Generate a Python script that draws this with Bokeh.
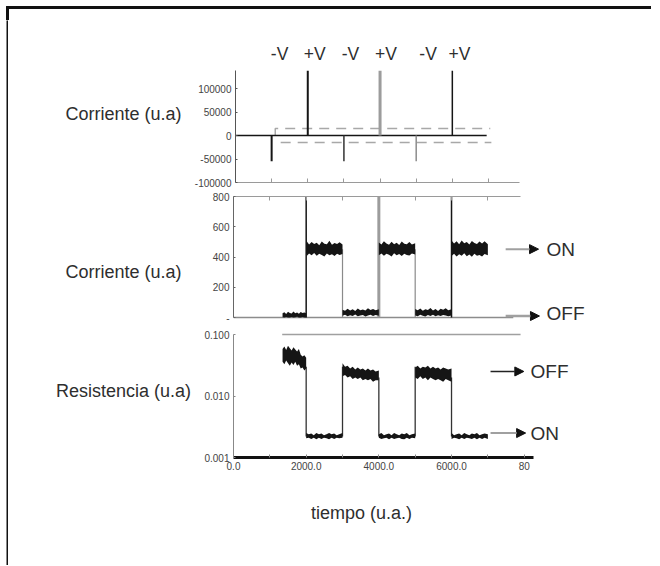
from bokeh.plotting import figure
from bokeh.layouts import column, row
from bokeh.models import (Range1d, FixedTicker, NumeralTickFormatter, Arrow, NormalHead)
from bokeh.embed import file_html
from bokeh.resources import INLINE
from bokeh.core.properties import value

FONT = "Liberation Sans"
TXT = "#2e2e2e"

# ---------------- data ----------------
# top panel: current spikes when voltage pulses are applied
spike_t = [1000, 2000, 3000, 4000, 5000, 6000]
spike_i = [-55000, 138000, -55000, 138000, -55000, 138000]
spike_labels = ["-V", "+V", "-V", "+V", "-V", "+V"]
spike_label_t = [1220, 2190, 3180, 4165, 5330, 6195]
base_t = [0, 6950]
base_i = [0, 0]
vpos_t = [1100, 1100, 7050]
vpos_i = [0, 15000, 15000]
vneg_t = [1250, 7080]
vneg_i = [-15000, -15000]

# middle panel: read current (noise envelope low/high)
cur_base_t = [0, 7700]
cur_base_i = [0, 0]
cur_off1_t = [1350, 1400, 1450, 1500, 1550, 1600, 1650, 1700, 1750, 1800, 1850, 1900, 1950, 2000]
cur_off1_hi = [28, 35, 24, 38, 30, 26, 40, 29, 33, 25, 37, 30, 34, 28]
cur_off1_lo = [2, 0, 4, 1, 0, 3, 0, 2, 5, 0, 1, 3, 0, 2]
cur_on1_t = [2000, 2015, 2080, 2150, 2220, 2290, 2360, 2430, 2500, 2570, 2640, 2710, 2780, 2850, 2920, 3000]
cur_on1_hi = [650, 505, 482, 500, 486, 494, 478, 503, 488, 484, 508, 481, 493, 486, 498, 483]
cur_on1_lo = [425, 407, 423, 412, 426, 409, 421, 414, 404, 424, 411, 419, 407, 422, 413, 420]
cur_off2_t = [3000, 3070, 3140, 3210, 3280, 3350, 3420, 3490, 3560, 3630, 3700, 3770, 3840, 3910, 4000]
cur_off2_hi = [52, 45, 58, 47, 55, 44, 60, 49, 53, 46, 62, 50, 56, 48, 54]
cur_off2_lo = [12, 18, 8, 15, 10, 20, 9, 14, 17, 7, 13, 19, 11, 16, 12]
cur_on2_t = [4000, 4070, 4140, 4210, 4280, 4350, 4420, 4490, 4560, 4630, 4700, 4770, 4840, 4910, 5000]
cur_on2_hi = [496, 483, 505, 489, 481, 501, 485, 494, 479, 503, 488, 484, 499, 482, 491]
cur_on2_lo = [412, 423, 409, 421, 415, 404, 425, 411, 420, 407, 422, 414, 410, 424, 416]
cur_off3_t = [5000, 5070, 5140, 5210, 5280, 5350, 5420, 5490, 5560, 5630, 5700, 5770, 5840, 5910, 6000]
cur_off3_hi = [56, 48, 60, 45, 54, 50, 63, 47, 57, 44, 58, 51, 61, 49, 55]
cur_off3_lo = [14, 9, 18, 12, 7, 16, 11, 19, 8, 15, 10, 17, 13, 9, 14]
cur_on3_t = [6000, 6070, 6140, 6210, 6280, 6350, 6420, 6490, 6560, 6630, 6700, 6770, 6840, 6910, 7000]
cur_on3_hi = [510, 489, 504, 484, 509, 491, 500, 482, 506, 493, 486, 503, 490, 505, 485]
cur_on3_lo = [406, 421, 403, 418, 409, 425, 405, 416, 402, 422, 408, 413, 404, 420, 412]
cur_edge_t = [2000, 3000, 4000, 5000, 6000]
cur_edge_from = [0, 452, 0, 452, 0]
cur_edge_to = [138000, 0, 138000, 0, 138000]

# bottom panel: resistance (log)
res_off1_t = cur_off1_t
res_off1_hi = [0.058, 0.064, 0.056, 0.066, 0.060, 0.055, 0.062, 0.057, 0.053, 0.058, 0.047, 0.044, 0.046, 0.042]
res_off1_lo = [0.036, 0.033, 0.038, 0.034, 0.031, 0.035, 0.032, 0.036, 0.031, 0.033, 0.028, 0.029, 0.026, 0.028]
res_on1_t = [2000, 2070, 2140, 2210, 2280, 2350, 2420, 2490, 2560, 2630, 2700, 2770, 2840, 2910, 3000]
res_on1_hi = [0.0025, 0.0024, 0.00245, 0.0023, 0.0025, 0.0024, 0.00245, 0.0023, 0.0024, 0.0025, 0.0024, 0.00245, 0.0023, 0.0024, 0.0025]
res_on1_lo = [0.00205, 0.0021, 0.0020, 0.0021, 0.00198, 0.0021, 0.0020, 0.0021, 0.00205, 0.00198, 0.0021, 0.0020, 0.0021, 0.00205, 0.0021]
res_off2_t = cur_off2_t
res_off2_hi = [0.034, 0.030, 0.031, 0.028, 0.030, 0.027, 0.029, 0.027, 0.028, 0.026, 0.028, 0.026, 0.027, 0.025, 0.026]
res_off2_lo = [0.021, 0.022, 0.020, 0.021, 0.019, 0.020, 0.019, 0.020, 0.018, 0.019, 0.018, 0.019, 0.017, 0.018, 0.018]
res_on2_t = cur_on2_t
res_on2_hi = [0.0024, 0.0025, 0.0023, 0.0024, 0.00245, 0.0023, 0.0025, 0.0024, 0.0023, 0.00245, 0.0024, 0.0025, 0.0023, 0.0024, 0.00245]
res_on2_lo = [0.0021, 0.0020, 0.00205, 0.0021, 0.00198, 0.0021, 0.0020, 0.00205, 0.0021, 0.0020, 0.00198, 0.0021, 0.0020, 0.0021, 0.00205]
res_off3_t = cur_off3_t
res_off3_hi = [0.029, 0.031, 0.028, 0.030, 0.029, 0.031, 0.028, 0.030, 0.028, 0.029, 0.027, 0.029, 0.028, 0.027, 0.028]
res_off3_lo = [0.020, 0.019, 0.021, 0.019, 0.020, 0.018, 0.020, 0.019, 0.018, 0.019, 0.018, 0.017, 0.019, 0.018, 0.017]
res_on3_t = cur_on3_t
res_on3_hi = [0.0025, 0.0023, 0.0024, 0.00245, 0.0023, 0.0025, 0.0024, 0.0023, 0.00245, 0.0024, 0.0025, 0.0023, 0.0024, 0.00245, 0.0024]
res_on3_lo = [0.0020, 0.0021, 0.00205, 0.00198, 0.0021, 0.0020, 0.0021, 0.00205, 0.0020, 0.0021, 0.00198, 0.0021, 0.0020, 0.0021, 0.0020]
res_edge_t = [2000, 3000, 4000, 5000, 6000]
res_edge_from = [0.03, 0.0022, 0.02, 0.0022, 0.02]
res_edge_to = [0.0022, 0.03, 0.0022, 0.03, 0.0022]
res_sat_t = [1340, 7900]
res_sat_r = [0.1, 0.1]

# axis ticks / labels
top_yticks = [-100000, -50000, 0, 50000, 100000]
mid_yticks = [0, 200, 400, 600, 800]
bot_yticks = [0.001, 0.01, 0.1]
x_inner_ticks = [1000, 2000, 3000, 4000, 5000, 6000, 7000]
x_major_ticks = [0, 2000, 4000, 6000, 8000]
x_minor_ticks = [1000, 3000, 5000, 7000]
panel_titles = ["Corriente (u.a)", "Corriente (u.a)", "Resistencia (u.a)"]
x_title = "tiempo (u.a.)"
x_title_t = 3520

# ---------------- styles ----------------
spike_color = ["#151515", "#151515", "#333333", "#9c9c9c", "#8c8c8c", "#151515"]
spike_width = [2, 2, 1.5, 3, 1.5, 1.5]
cur_edge_color = ["#151515", "#8a8a8a", "#9c9c9c", "#8a8a8a", "#151515"]
cur_edge_width = [1.5, 1.2, 3, 1.2, 1.5]

W = 460           # width of each data figure
LW = 183          # width of the left title strip
XR = (0, 10100)
TICK_FS = "10px"
TOP_H = 20        # height of the strip that carries the page's top rule


def base_fig(height, y_range, top, bottom, **kw):
    p = figure(width=W, height=height, x_range=Range1d(*XR), y_range=y_range,
               output_backend="svg", toolbar_location=None, title=None,
               min_border_left=42, min_border_right=51,
               min_border_top=top, min_border_bottom=bottom, **kw)
    p.outline_line_color = None
    p.grid.visible = False
    p.background_fill_color = "white"
    p.border_fill_color = "white"
    return p


def title_fig(p, height, top, bottom, yval, text, **kw):
    f = figure(width=LW, height=height, x_range=Range1d(0, LW), y_range=p.y_range,
               output_backend="svg", toolbar_location=None, title=None,
               x_axis_location=None, y_axis_location=None,
               min_border_left=0, min_border_right=0,
               min_border_top=top, min_border_bottom=bottom, **kw)
    f.outline_line_color = None
    f.grid.visible = False
    f.text(x=[115], y=[yval], text=[text], text_align="center", text_baseline="middle",
           text_font=value(FONT), text_font_size="18px", text_color=TXT)
    return f


def rule_fig(width, height, left, top):
    b = figure(width=width, height=height, output_backend="svg", toolbar_location=None,
               title=None, x_axis_location=None, y_axis_location=None,
               min_border_left=left, min_border_top=top, min_border_right=0, min_border_bottom=0,
               x_range=Range1d(0, 1), y_range=Range1d(0, 1))
    b.outline_line_color = None
    b.grid.visible = False
    b.background_fill_color = "#111111"
    b.border_fill_color = "white"
    return b


def top_rule_fig(width, height, left):
    # page frame: top line plus the first piece of the left line
    b = figure(width=width, height=height, output_backend="svg", toolbar_location=None,
               title=None, x_axis_location=None, y_axis_location=None, min_border=0,
               x_range=Range1d(0, width), y_range=Range1d(0, height))
    b.outline_line_color = None
    b.grid.visible = False
    b.background_fill_color = "white"
    b.border_fill_color = "white"
    b.quad(left=[left, left], right=[width, left + 2], bottom=[height - 8, 0],
           top=[height - 6, height - 6], color="#111111")
    return b


def style_y(ax, ticks, color="#666666"):
    ax.ticker = FixedTicker(ticks=ticks)
    ax.axis_line_color = color
    ax.axis_line_width = 1
    ax.major_tick_in = 2
    ax.major_tick_out = 0
    ax.major_tick_line_color = color
    ax.minor_tick_line_color = None
    ax.major_label_text_font = FONT
    ax.major_label_text_font_size = TICK_FS
    ax.major_label_text_color = "#444444"
    ax.major_label_standoff = 4


def style_frame_x(ax, bounds, color="#999999", ticks=None):
    ax.bounds = bounds
    ax.axis_line_color = color
    ax.axis_line_width = 1.2
    ax.ticker = FixedTicker(ticks=ticks or [])
    ax.major_tick_in = 4
    ax.major_tick_out = 0
    ax.major_tick_line_color = color
    ax.minor_tick_line_color = None
    ax.major_label_text_color = None
    ax.major_label_text_font_size = "1px"
    ax.major_label_standoff = 0


# ---------------- top panel ----------------
H1, T1, B1 = 168, 21, 6
p1 = base_fig(H1, Range1d(-100000, 200000), T1, B1)
style_y(p1.yaxis[0], top_yticks, "#555555")
p1.yaxis[0].bounds = (-100000, 138000)
p1.yaxis[0].formatter = NumeralTickFormatter(format="0")
style_frame_x(p1.xaxis[0], (0, 7850), "#9a9a9a", x_inner_ticks)

p1.line(vpos_t, vpos_i, color="#a8a8a8", line_width=1.5, line_dash="10 7")
p1.line(vneg_t, vneg_i, color="#a8a8a8", line_width=1.5, line_dash="10 7")
p1.line(base_t, base_i, color="#151515", line_width=1.5)
p1.segment(x0=spike_t, y0=[0 for _ in spike_t], x1=spike_t, y1=spike_i,
           color=spike_color, line_width=spike_width)
p1.text(x=spike_label_t, y=[173000 for _ in spike_label_t], text=spike_labels,
        text_align="center", text_baseline="middle", text_font=value(FONT),
        text_font_size="17.5px", text_color=TXT)
t1 = title_fig(p1, H1, T1, B1, 46000, panel_titles[0])

# ---------------- middle panel ----------------
H2, T2, B2 = 137, 8, 1
p2 = base_fig(H2, Range1d(-46, 800), T2, B2, x_axis_location="above")
style_y(p2.yaxis[0], mid_yticks, "#666666")
p2.yaxis[0].bounds = (0, 800)
p2.yaxis[0].major_label_overrides = {0: "-"}
style_frame_x(p2.xaxis[0], (0, 7900), "#9a9a9a", x_inner_ticks)

cur_blocks = [(cur_off1_t, cur_off1_lo, cur_off1_hi), (cur_on1_t, cur_on1_lo, cur_on1_hi),
              (cur_off2_t, cur_off2_lo, cur_off2_hi), (cur_on2_t, cur_on2_lo, cur_on2_hi),
              (cur_off3_t, cur_off3_lo, cur_off3_hi), (cur_on3_t, cur_on3_lo, cur_on3_hi)]
p2.line(cur_base_t, cur_base_i, color="#8c8c8c", line_width=1.5)
p2.segment(x0=cur_edge_t, y0=cur_edge_from, x1=cur_edge_t, y1=cur_edge_to,
           color=cur_edge_color, line_width=cur_edge_width)
for t, lo, hi in cur_blocks:
    p2.varea(x=t, y1=lo, y2=hi, fill_color="#151515")

head = dict(size=9, fill_color="#111111", line_color="#111111")
p2.add_layout(Arrow(end=NormalHead(**head), x_start=7490, y_start=452, x_end=8395, y_end=452,
                    line_color="#a0a0a0", line_width=2))
p2.add_layout(Arrow(end=NormalHead(**head), x_start=7490, y_start=10, x_end=8420, y_end=10,
                    line_color="#a0a0a0", line_width=2.5))
p2.text(x=[8615, 8615], y=[452, 30], text=["ON", "OFF"], text_align="left",
        text_baseline="middle", text_font=value(FONT), text_font_size="19px", text_color=TXT)
t2 = title_fig(p2, H2, T2, B2, 298, panel_titles[1])

# ---------------- bottom panel ----------------
H3, T3, B3 = 152, 7, 20
p3 = base_fig(H3, Range1d(0.001, 0.108), T3, B3, y_axis_type="log")
style_y(p3.yaxis[0], bot_yticks, "#888888")
p3.yaxis[0].bounds = (0.001, 0.1)
p3.yaxis[0].formatter = NumeralTickFormatter(format="0.000")
xa = p3.xaxis[0]
xa.bounds = (-80, 8260)
xa.ticker = FixedTicker(ticks=x_major_ticks, minor_ticks=x_minor_ticks)
xa.formatter = NumeralTickFormatter(format="0.0")
xa.major_label_overrides = {8000: "80"}
xa.axis_line_color = "#111111"
xa.axis_line_width = 3
xa.major_tick_in = 3
xa.major_tick_out = 0
xa.minor_tick_in = 3
xa.minor_tick_out = 0
xa.major_tick_line_color = "#888888"
xa.minor_tick_line_color = "#888888"
xa.major_label_text_font = FONT
xa.major_label_text_font_size = TICK_FS
xa.major_label_text_color = "#444444"
xa.major_label_standoff = 4

p3.line(res_sat_t, res_sat_r, color="#a0a0a0", line_width=1.5)
res_blocks = [(res_off1_t, res_off1_lo, res_off1_hi), (res_on1_t, res_on1_lo, res_on1_hi),
              (res_off2_t, res_off2_lo, res_off2_hi), (res_on2_t, res_on2_lo, res_on2_hi),
              (res_off3_t, res_off3_lo, res_off3_hi), (res_on3_t, res_on3_lo, res_on3_hi)]
p3.segment(x0=res_edge_t, y0=res_edge_from, x1=res_edge_t, y1=res_edge_to,
           color="#333333", line_width=1.3)
for t, lo, hi in res_blocks:
    p3.varea(x=t, y1=lo, y2=hi, fill_color="#151515")

p3.add_layout(Arrow(end=NormalHead(**head), x_start=7074, y_start=0.0251, x_end=7990, y_end=0.0251,
                    line_color="#222222", line_width=1.5))
p3.add_layout(Arrow(end=NormalHead(**head), x_start=7074, y_start=0.0025, x_end=8040, y_end=0.0025,
                    line_color="#a0a0a0", line_width=2))
p3.text(x=[8175, 8175], y=[0.0251, 0.0025], text=["OFF", "ON"], text_align="left",
        text_baseline="middle", text_font=value(FONT), text_font_size="19px", text_color=TXT)
t3 = title_fig(p3, H3, T3, B3, 0.0122, panel_titles[2], y_axis_type="log")

# ---------------- time caption strip (shares the time axis) ----------------
HC = 88
cap = figure(width=LW + W, height=HC, x_range=p3.x_range, y_range=Range1d(0, HC),
             output_backend="svg", toolbar_location=None, title=None,
             x_axis_location=None, y_axis_location=None,
             min_border_left=LW + 42, min_border_right=51, min_border_top=0, min_border_bottom=0)
cap.outline_line_color = None
cap.grid.visible = False
cap.text(x=[x_title_t], y=[HC - 35], text=[x_title], text_align="center", text_baseline="middle",
         text_font=value(FONT), text_font_size="18px", text_color=TXT)

# ---------------- page frame (top and left rules) ----------------
body = column(row(t1, p1), row(t2, p2), row(t3, p3), cap)
top_rule = top_rule_fig(LW + W + 8, TOP_H, 6)
left_rule = rule_fig(8, H1 + H2 + H3 + HC, 6, 0)
layout = column(top_rule, row(left_rule, body))

open("out.html", "w").write(file_html(layout, INLINE))
